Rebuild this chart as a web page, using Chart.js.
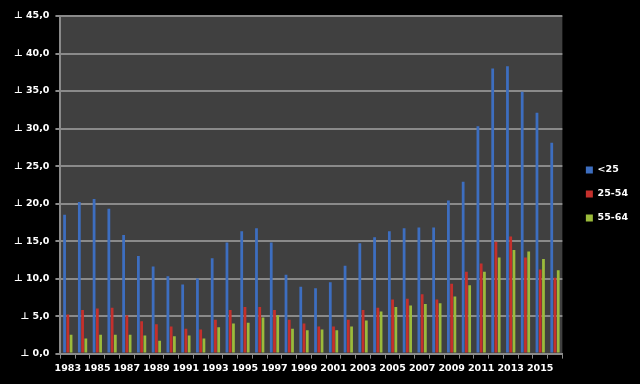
<!DOCTYPE html>
<html>
<head>
<meta charset="utf-8">
<script src="https://cdn.jsdelivr.net/npm/chart.js@4/dist/chart.umd.min.js"></script>
<style>
html,body{margin:0;padding:0;background:#000;}
#wrap{width:640px;height:384px;position:relative;}
</style>
</head>
<body>
<div id="wrap"><canvas id="c" width="640" height="384"></canvas></div>
<script>
const years = [1983,1984,1985,1986,1987,1988,1989,1990,1991,1992,1993,1994,1995,1996,1997,1998,1999,2000,2001,2002,2003,2004,2005,2006,2007,2008,2009,2010,2011,2012,2013,2014,2015,2016];
const under25 = [18.5,20.2,20.6,19.3,15.8,13.0,11.6,10.3,9.2,10.0,12.7,14.8,16.3,16.7,14.8,10.5,8.9,8.7,9.5,11.7,14.7,15.5,16.3,16.7,16.8,16.8,20.4,22.9,30.3,38.0,38.3,34.9,32.1,28.1];
const age25to54 = [5.2,5.8,6.0,6.1,5.1,4.3,3.9,3.6,3.3,3.2,4.5,5.8,6.2,6.2,5.8,4.5,4.0,3.6,3.6,4.5,5.8,6.1,7.2,7.3,7.9,7.2,9.3,10.9,12.0,14.9,15.6,12.8,11.2,10.1];
const age55to64 = [2.5,2.0,2.5,2.5,2.5,2.4,1.7,2.3,2.4,2.0,3.5,4.0,4.1,4.8,5.1,3.3,3.1,3.2,3.1,3.6,4.4,5.6,6.2,6.4,6.6,6.7,7.6,9.1,10.9,12.8,13.8,13.6,12.6,11.1];
const seriesNames = ['<25','25-54','55-64'];
const yTicks = [0,5,10,15,20,25,30,35,40,45];

const plotBg = {
  id:'plotBg',
  beforeDraw(chart){
    const {ctx, chartArea:a} = chart;
    ctx.save();
    ctx.fillStyle = '#404040';
    ctx.fillRect(a.left, a.top, a.right-a.left, a.bottom-a.top);
    ctx.restore();
  }
};
const legendShift = {
  id:'legendShift',
  afterLayout(chart){
    const l = chart.legend;
    if (l) { l.left += 9; l.right += 9; l.top -= 3; l.bottom -= 3; }
  }
};

const font = {family:'DejaVu Sans', weight:'bold', size:9.5};

new Chart(document.getElementById('c'), {
  type:'bar',
  data:{
    labels: years.map(String),
    datasets:[
      {label:seriesNames[0], data:under25, backgroundColor:'#3d6ec0'},
      {label:seriesNames[1], data:age25to54, backgroundColor:'#c4302c'},
      {label:seriesNames[2], data:age55to64, backgroundColor:'#9bbb3b'}
    ]
  },
  options:{
    responsive:false,
    animation:false,
    devicePixelRatio:1,
    layout:{padding:{left:8,top:16,right:11,bottom:6}},
    datasets:{bar:{categoryPercentage:0.66, barPercentage:0.85}},
    plugins:{
      legend:{
        position:'right',
        labels:{color:'#ffffff', font:font, boxWidth:7, boxHeight:7, padding:14.5}
      },
      tooltip:{enabled:false}
    },
    scales:{
      x:{
        offset:true,
        grid:{offset:true, drawOnChartArea:false, drawTicks:true, tickLength:5, color:'#8a8a8a'},
        border:{color:'#8a8a8a', width:2},
        ticks:{color:'#ffffff', font:font, autoSkip:false, maxRotation:0, padding:4,
          callback:function(v,i){ return i%2===0 ? years[i] : ''; }}
      },
      y:{
        min:0, max:45,
        afterBuildTicks(axis){ axis.ticks = yTicks.map(v=>({value:v})); },
        grid:{color:'#8a8a8a', lineWidth:2, tickLength:5},
        border:{color:'#8a8a8a', width:2},
        ticks:{color:'#ffffff', font:font, padding:6,
          callback:function(v){ return '\u22A5 ' + Number(v).toFixed(1).replace('.',','); }}
      }
    }
  },
  plugins:[plotBg, legendShift]
});
</script>
</body>
</html>
